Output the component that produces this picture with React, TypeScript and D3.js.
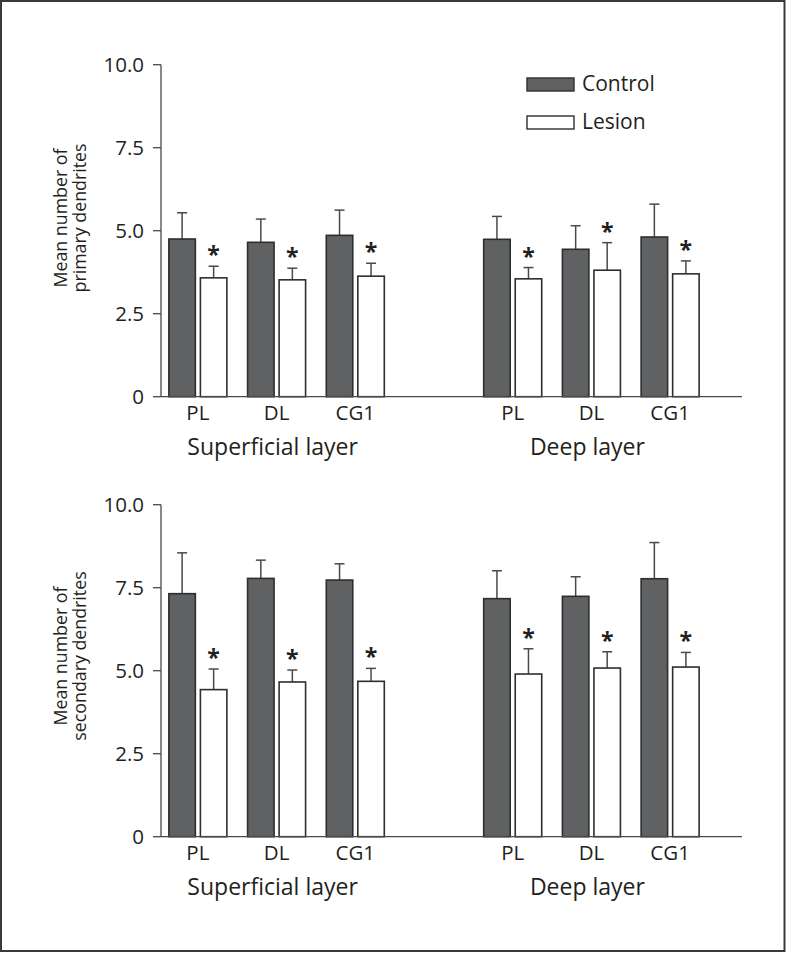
import React from "react";
import * as d3 from "d3";

const regions = ["PL", "DL", "CG1"];
const layers = ["Superficial layer", "Deep layer"];
const slots = ["S-PL", "S-DL", "S-CG1", "gap", "D-PL", "D-DL", "D-CG1"];
const barSlots = ["S-PL", "S-DL", "S-CG1", "D-PL", "D-DL", "D-CG1"];
const seriesNames = ["Control", "Lesion"];
const yTicks = [0, 2.5, 5, 7.5, 10];
const yTickLabels = ["0", "2.5", "5.0", "7.5", "10.0"];

const primaryControl = [4.75, 4.65, 4.86, 4.74, 4.44, 4.81];
const primaryControlErr = [0.79, 0.7, 0.76, 0.69, 0.71, 0.99];
const primaryLesion = [3.58, 3.52, 3.63, 3.55, 3.81, 3.7];
const primaryLesionErr = [0.35, 0.35, 0.39, 0.34, 0.83, 0.39];
const primarySig = [true, true, true, true, true, true];

const secondaryControl = [7.32, 7.78, 7.73, 7.17, 7.24, 7.77];
const secondaryControlErr = [1.23, 0.55, 0.49, 0.84, 0.59, 1.09];
const secondaryLesion = [4.43, 4.66, 4.68, 4.9, 5.08, 5.11];
const secondaryLesionErr = [0.62, 0.36, 0.39, 0.76, 0.49, 0.44];
const secondarySig = [true, true, true, true, true, true];

const FONT = "'Open Sans', 'Noto Sans', sans-serif";
const TEXT = "#231f20";
const AXIS = "#4a4a4a";
const CTRL_FILL = "#606163";
const BAR_STROKE = "#2e2e2e";

const x = d3.scaleBand<string>().domain(slots).range([161, 707]).paddingInner(0.263).paddingOuter(0.1);
const xSub = d3.scaleBand<string>().domain(seriesNames).range([0, x.bandwidth()]).paddingInner(0.16);

type PanelProps = {
  top: number;
  bottom: number;
  title: string[];
  control: number[];
  controlErr: number[];
  lesion: number[];
  lesionErr: number[];
  sig: boolean[];
  titleCenter: number;
  legend?: boolean;
};

function Panel({ top, bottom, title, control, controlErr, lesion, lesionErr, sig, titleCenter, legend }: PanelProps) {
  const y = d3.scaleLinear().domain([0, 10]).range([bottom, top]);
  const axisX = 161;
  const capHalf = 5;
  const bars: React.ReactNode[] = [];
  barSlots.forEach((slot, i) => {
    const gx = x(slot)!;
    const series = [
      { name: "Control", v: control[i], e: controlErr[i], fill: CTRL_FILL },
      { name: "Lesion", v: lesion[i], e: lesionErr[i], fill: "#ffffff" },
    ];
    series.forEach((s) => {
      const bx = gx + xSub(s.name)!;
      const bw = xSub.bandwidth();
      const cx = bx + bw / 2;
      const yTop = y(s.v);
      const yErr = y(s.v + s.e);
      bars.push(
        <g key={slot + s.name}>
          <line x1={cx} x2={cx} y1={yTop} y2={yErr} stroke={AXIS} strokeWidth={1.5} />
          <line x1={cx - capHalf} x2={cx + capHalf} y1={yErr} y2={yErr} stroke={AXIS} strokeWidth={1.5} />
          <rect x={bx} y={yTop} width={bw} height={y(0) - yTop} fill={s.fill} stroke={BAR_STROKE} strokeWidth={1.6} />
          {s.name === "Lesion" && sig[i] ? (
            <text x={cx} y={yErr - 3} textAnchor="middle" fontSize={23} fontWeight="bold" fill={TEXT} fontFamily={FONT}>
              *
            </text>
          ) : null}
        </g>
      );
    });
  });

  return (
    <g>
      {/* y axis */}
      <line x1={axisX} x2={axisX} y1={y(10)} y2={y(0)} stroke={AXIS} strokeWidth={1.3} />
      {yTicks.map((t, i) => (
        <g key={t}>
          <line x1={axisX - 8} x2={axisX} y1={y(t)} y2={y(t)} stroke={AXIS} strokeWidth={1.3} />
          <text x={axisX - 17} y={y(t)} dy="0.36em" textAnchor="end" fontSize={20.5} fill={TEXT} fontFamily={FONT}>
            {yTickLabels[i]}
          </text>
        </g>
      ))}
      {bars}
      {/* x axis */}
      <line x1={axisX} x2={742} y1={y(0)} y2={y(0)} stroke={AXIS} strokeWidth={1.3} />
      {barSlots.map((slot, i) => (
        <text key={slot} x={x(slot)! + x.bandwidth() / 2} y={y(0) + 23} textAnchor="middle" fontSize={20.5} fill={TEXT} fontFamily={FONT}>
          {regions[i % 3]}
        </text>
      ))}
      {layers.map((l, i) => {
        const a = x(barSlots[i * 3])!;
        const b = x(barSlots[i * 3 + 2])! + x.bandwidth();
        return (
          <text key={l} x={(a + b) / 2 - 4} y={y(0) + 58} textAnchor="middle" fontSize={23} fill={TEXT} fontFamily={FONT}>
            {l}
          </text>
        );
      })}
      {/* y title */}
      <g transform={`translate(0, ${titleCenter})`}>
        <text transform="rotate(-90)" x={0} y={67} textAnchor="middle" fontSize={17.8} fill={TEXT} fontFamily={FONT}>
          {title[0]}
        </text>
        <text transform="rotate(-90)" x={0} y={86} textAnchor="middle" fontSize={17.8} fill={TEXT} fontFamily={FONT}>
          {title[1]}
        </text>
      </g>
      {legend ? (
        <g>
          {seriesNames.map((n, i) => (
            <g key={n} transform={`translate(527, ${78 + i * 38})`}>
              <rect x={0} y={0} width={47} height={13} fill={i === 0 ? CTRL_FILL : "#ffffff"} stroke={BAR_STROKE} strokeWidth={1.4} />
              <text x={55} y={13} fontSize={21} fill={TEXT} fontFamily={FONT}>
                {n}
              </text>
            </g>
          ))}
        </g>
      ) : null}
    </g>
  );
}

export default function App() {
  return (
    <svg width={786} height={953} style={{ position: "absolute", left: 0, top: 0, background: "#fff" }}>
      <rect x={1} y={1} width={783.5} height={950} fill="#fff" stroke="#3a3a3a" strokeWidth={2} />
      <Panel
        top={64.7}
        bottom={396.7}
        title={["Mean number of", "primary dendrites"]}
        control={primaryControl}
        controlErr={primaryControlErr}
        lesion={primaryLesion}
        lesionErr={primaryLesionErr}
        sig={primarySig}
        titleCenter={218}
        legend
      />
      <Panel
        top={504.7}
        bottom={836.7}
        title={["Mean number of", "secondary dendrites"]}
        control={secondaryControl}
        controlErr={secondaryControlErr}
        lesion={secondaryLesion}
        lesionErr={secondaryLesionErr}
        sig={secondarySig}
        titleCenter={656}
      />
    </svg>
  );
}
